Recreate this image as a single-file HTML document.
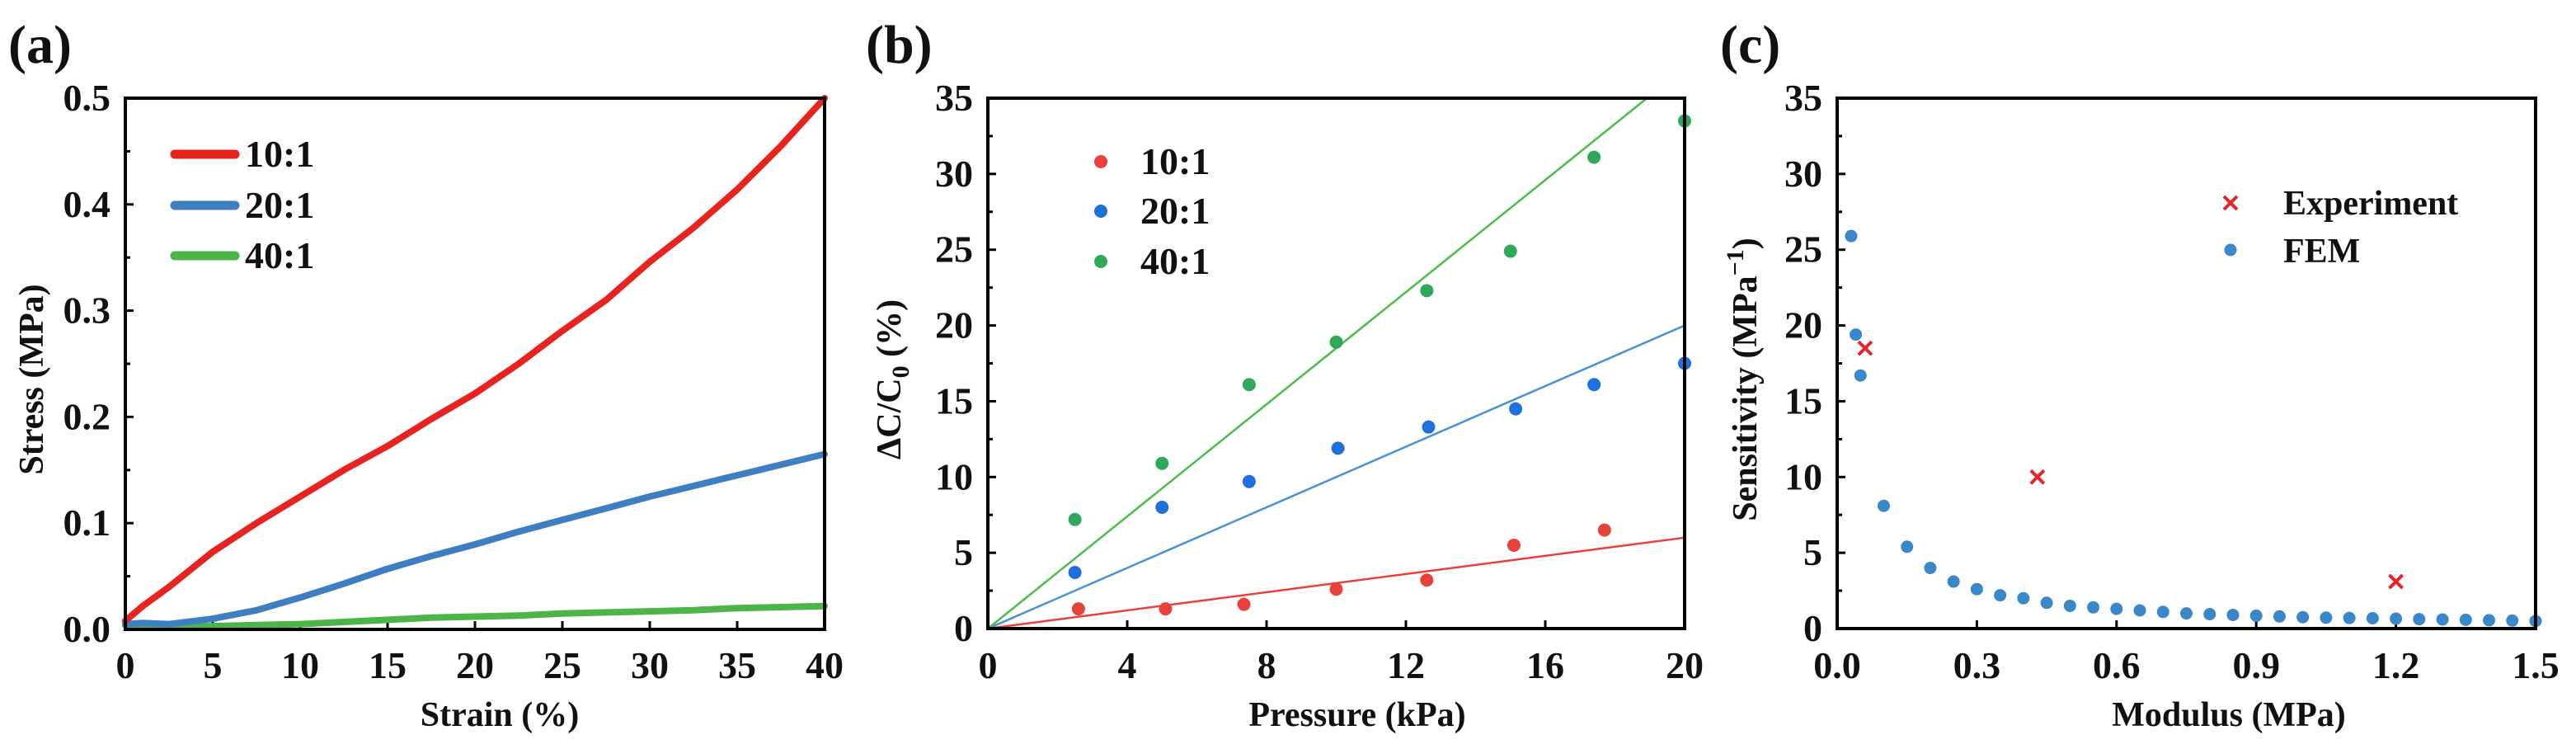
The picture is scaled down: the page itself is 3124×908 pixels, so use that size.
<!DOCTYPE html>
<html><head><meta charset="utf-8"><style>
html,body{margin:0;padding:0;background:#fff;}
svg{display:block;font-family:"Liberation Serif",serif;font-weight:bold;}
</style></head><body>
<svg id="fig" width="3124" height="908" viewBox="0 0 3124 908" xmlns="http://www.w3.org/2000/svg">
<g id="pa"></g>
<g id="pb"></g>
<g id="pc"></g>
</svg>
<script>
// Panel (a)
const aStrain=[0,1,2.5,5,7.5,10,12.5,15,17.5,20,22.5,25,27.5,30,32.5,35,37.5,40];
const aStress10=[0.008,0.022,0.04,0.073,0.1,0.125,0.15,0.1725,0.198,0.222,0.25,0.281,0.31,0.346,0.378,0.414,0.455,0.5];
const aStress20=[0.005,0.006,0.005,0.01,0.018,0.03,0.043,0.057,0.069,0.08,0.092,0.103,0.114,0.125,0.135,0.145,0.155,0.165];
const aStress40=[0.004,0.004,0.003,0.003,0.004,0.005,0.007,0.009,0.011,0.012,0.013,0.015,0.016,0.017,0.018,0.02,0.021,0.022];
const aXTicks=[0,5,10,15,20,25,30,35,40];
const aYTicks=[0.0,0.1,0.2,0.3,0.4,0.5];
// Panel (b)
const bCats=["10:1","20:1","40:1"];
const bX10=[2.6,5.1,7.35,10,12.6,15.1,17.7];
const bY10=[1.3,1.3,1.6,2.6,3.2,5.5,6.5];
const bX20=[2.5,5,7.5,10.05,12.65,15.15,17.4,20];
const bY20=[3.7,8,9.7,11.9,13.3,14.5,16.1,17.5];
const bX40=[2.5,5,7.5,10,12.6,15,17.4,20];
const bY40=[7.2,10.9,16.1,18.9,22.3,24.9,31.1,33.5];
const bSlopes=[0.3,1.0,1.85];
const bXTicks=[0,4,8,12,16,20];
const bYTicks=[0,5,10,15,20,25,30,35];
// Panel (c)
const cFemX=[0.03,0.04,0.05,0.1,0.15,0.2,0.25,0.3,0.35,0.4,0.45,0.5,0.55,0.6,0.65,0.7,0.75,0.8,0.85,0.9,0.95,1.0,1.05,1.1,1.15,1.2,1.25,1.3,1.35,1.4,1.45,1.5];
const cFemY=[25.9,19.4,16.7,8.1,5.4,4.0,3.1,2.6,2.2,2.0,1.7,1.5,1.4,1.3,1.2,1.1,1.0,0.95,0.9,0.85,0.8,0.75,0.72,0.7,0.68,0.65,0.62,0.6,0.58,0.55,0.53,0.5];
const cExpX=[0.06,0.43,1.2];
const cExpY=[18.5,10,3.1];
const cXTicks=[0.0,0.3,0.6,0.9,1.2,1.5];
const cYTicks=[0,5,10,15,20,25,30,35];

const NS="http://www.w3.org/2000/svg";
function mk(p,t,a){const e=document.createElementNS(NS,t);for(const k in a)e.setAttribute(k,a[k]);p.appendChild(e);return e;}
function txt(p,x,y,s,size,anchor){const e=mk(p,"text",{x:x,y:y,"font-size":size,"text-anchor":anchor||"middle",fill:"#111"});e.textContent=s;return e;}

function axes(g,o){
  const sx=v=>o.x0+(v-o.xmin)/(o.xmax-o.xmin)*(o.x1-o.x0);
  const sy=v=>o.y0-(v-o.ymin)/(o.ymax-o.ymin)*(o.y0-o.y1);
  // ticks
  o.xt.forEach((v,i)=>{
    const t=mk(g,"line",{x1:sx(v),x2:sx(v),y1:o.y0,y2:o.y0-10,stroke:"#000","stroke-width":3});
    
    
    const l=txt(g,sx(v),822,o.xf(v),46);
    
    
  });
  o.yt.forEach((v,i)=>{
    const t=mk(g,"line",{x1:o.x0,x2:o.x0+10,y1:sy(v),y2:sy(v),stroke:"#000","stroke-width":3});
    
    
    const l=txt(g,o.x0-18,sy(v)+15,o.yf(v),46,"end");
    
    
    if(i<o.yt.length-1){
      const mv=(v+o.yt[i+1])/2;
      const m=mk(g,"line",{x1:o.x0,x2:o.x0+6,y1:sy(mv),y2:sy(mv),stroke:"#000","stroke-width":3});
      
      
    }
  });
  return {sx,sy};
}
function frame(g,o){
  const r=mk(g,"rect",{x:o.x0,y:o.y1,width:o.x1-o.x0,height:o.y0-o.y1,fill:"none",stroke:"#000","stroke-width":4});
  
  
}

// ---------- Panel a ----------
(function(){
  const g=document.getElementById("pa");
  const o={x0:152,x1:1000,y0:763,y1:119,xmin:0,xmax:40,ymin:0,ymax:0.5,xt:aXTicks,yt:aYTicks,xf:v=>String(v),yf:v=>v.toFixed(1)};
  const {sx,sy}=axes(g,o);
  const cols=["#e8231f","#3d7fc1","#4cb548"];
  [aStress40,aStress20,aStress10].forEach((ys,k)=>{
    const c=[cols[2],cols[1],cols[0]][k];
    const d=aStrain.map((x,i)=>(i?"L":"M")+sx(x).toFixed(1)+","+sy(ys[i]).toFixed(1)).join("");
    const p=mk(g,"path",{d:d,fill:"none",stroke:c,"stroke-width":8,"stroke-linejoin":"round","stroke-linecap":"round"});
    
    
  });
  frame(g,o);
  ["10:1","20:1","40:1"].forEach((s,i)=>{
    const y=[187,249,310][i];
    const l=mk(g,"line",{x1:212,x2:285,y1:y,y2:y,stroke:cols[i],"stroke-width":11,"stroke-linecap":"round"});
    
    
    const t=txt(g,297,y+15,s,46,"start");
    
    
  });
  const xt=txt(g,606,880,"Strain (%)",42);
  const yt=txt(g,0,0,"Stress (MPa)",42);yt.setAttribute('transform','translate(52,460) rotate(-90)');
  
  const pl=txt(g,10,76,"(a)",66,"start");
})();

// ---------- Panel b ----------
(function(){
  const g=document.getElementById("pb");
  const o={x0:1198,x1:2043,y0:762,y1:119,xmin:0,xmax:20,ymin:0,ymax:35,xt:bXTicks,yt:bYTicks,xf:v=>String(v),yf:v=>String(v)};
  const {sx,sy}=axes(g,o);
  const dotC=["#e8413c","#1f6fdc","#2fa85c"];
  const lineC=["#e8403a","#4b92d2","#4cbb48"];
  bSlopes.forEach((m,k)=>{
    let xe=20,ye=m*20; if(ye>35){ye=35;xe=35/m;}
    const l=mk(g,"line",{x1:sx(0),y1:sy(0),x2:sx(xe),y2:sy(ye),stroke:lineC[k],"stroke-width":2.5});
    
    
  });
  [[bX10,bY10],[bX20,bY20],[bX40,bY40]].forEach((s,k)=>{
    s[0].forEach((x,i)=>{
      const c=mk(g,"circle",{cx:sx(x),cy:sy(s[1][i]),r:8,fill:dotC[k]});
      
      
    });
  });
  frame(g,o);
  bCats.forEach((s,i)=>{
    const y=[196,256,317][i];
    const c=mk(g,"circle",{cx:1335,cy:y,r:8,fill:dotC[i]});
    
    
    const t=txt(g,1383,y+15,s,46,"start");
    
    
  });
  const xt=txt(g,1646,880,"Pressure (kPa)",42);
  const yt=mk(g,"text",{"font-size":42,"text-anchor":"middle",fill:"#111",transform:"translate(1092,460) rotate(-90)"});
  yt.innerHTML='ΔC/C<tspan font-size="30" dy="10">0</tspan><tspan dy="-10"> (%)</tspan>';
  
  const pl=txt(g,1050,76,"(b)",66,"start");
})();

// ---------- Panel c ----------
(function(){
  const g=document.getElementById("pc");
  const o={x0:2228,x1:3075,y0:762,y1:119,xmin:0,xmax:1.5,ymin:0,ymax:35,xt:cXTicks,yt:cYTicks,xf:v=>v.toFixed(1),yf:v=>String(v)};
  const {sx,sy}=axes(g,o);
  cFemX.forEach((x,i)=>{
    const c=mk(g,"circle",{cx:sx(x),cy:sy(cFemY[i]),r:7.5,fill:"#3a87c9"});
    
    
  });
  function cross(x,y,name){
    const p=mk(g,"path",{d:`M${x-8},${y-8}L${x+8},${y+8}M${x-8},${y+8}L${x+8},${y-8}`,stroke:"#e8232a","stroke-width":4});
    
    
  }
  cExpX.forEach((x,i)=>cross(sx(x),sy(cExpY[i]),'experiment-point'));
  frame(g,o);
  cross(2705,246,'legend-marker-experiment');
  const lc=mk(g,"circle",{cx:2705,cy:303,r:7.5,fill:"#3a87c9"});
  
  const t1=txt(g,2769,260,"Experiment",42,"start");
  const t2=txt(g,2769,318,"FEM",42,"start");
  const xt=txt(g,2703,880,"Modulus (MPa)",42);
  const yt=mk(g,"text",{"font-size":42,"text-anchor":"middle",fill:"#111",transform:"translate(2130,460) rotate(-90)"});
  yt.innerHTML='Sensitivity (MPa<tspan font-size="30" dy="-16">−1</tspan><tspan dy="16">)</tspan>';
  
  const pl=txt(g,2086,76,"(c)",66,"start");
})();
</script>
</body></html>
